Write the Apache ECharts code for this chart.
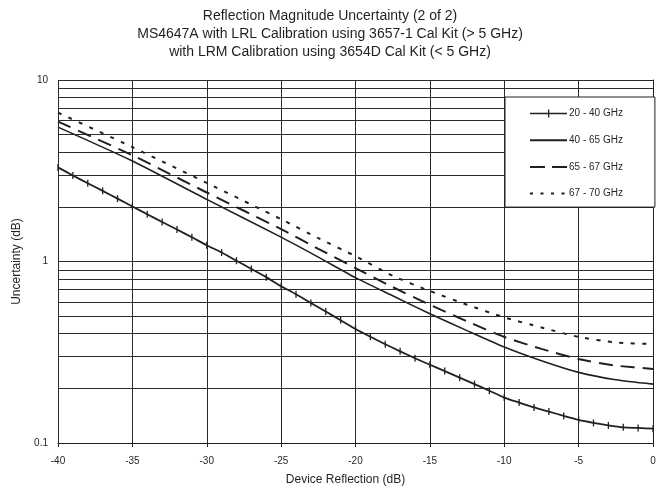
<!DOCTYPE html>
<html>
<head>
<meta charset="utf-8">
<script src="https://cdn.jsdelivr.net/npm/echarts@6/dist/echarts.min.js"></script>
<style>html,body{margin:0;padding:0;background:#fff}#c{width:660px;height:493px}</style>
</head>
<body>
<div id="c"></div>
<script>
const titleLines = [
  'Reflection Magnitude Uncertainty (2 of 2)',
  'MS4647A with LRL Calibration using 3657-1 Cal Kit (> 5 GHz)',
  'with LRM Calibration using 3654D Cal Kit (< 5 GHz)'
];
const seriesNames = ['20 - 40 GHz', '40 - 65 GHz', '65 - 67 GHz', '67 - 70 GHz'];

const xTicked = [-40,-39,-38,-37,-36,-35,-34,-33,-32,-31,-30,-29,-28,-27,-26,-25,-24,-23,-22,-21,
                 -20,-19,-18,-17,-16,-15,-14,-13,-12,-11,-10,-9,-8,-7,-6,-5,-4,-3,-2,-1,0];
const yTicked = [3.30,2.98,2.70,2.45,2.22,2.01,1.82,1.65,1.50,1.36,
                 1.23,1.12,1.01,0.91,0.82,0.73,0.66,0.59,0.53,0.475,
                 0.425,0.385,0.350,0.320,0.293,0.270,0.249,0.229,0.211,0.194,
                 0.178,0.167,0.157,0.149,0.141,0.134,0.129,0.125,0.122,0.121,0.120];

const xCurve = [-40,-35,-30,-25,-22.5,-20,-17.5,-15,-12.5,-10,-7.5,-5,-2.5,0];
const y40_65 = [5.50,3.58,2.20,1.362,1.057,0.815,0.647,0.515,0.416,0.338,0.284,0.245,0.223,0.211];
const y65_67 = [5.90,3.85,2.40,1.508,1.175,0.92,0.723,0.578,0.468,0.384,0.330,0.290,0.267,0.256];
const y67_70 = [6.61,4.27,2.71,1.71,1.345,1.07,0.834,0.688,0.578,0.492,0.433,0.384,0.358,0.351];

const minorGrid = [0.2,0.3,0.4,0.5,0.6,0.7,0.8,0.9,2,3,4,5,6,7,8,9];
const xTickLabels = ['-40','-35','-30','-25','-20','-15','-10','-5','0'];
const yTickLabels = ['0.1', '1', '10'];

const ink = '#231f20';
const gridInk = '#2a2a2a';
const zip = (xs, ys) => xs.map((x, i) => [x, ys[i]]);
const tickedIcon = 'path://M0,4.2L37,4.2L37,5.8L0,5.8Z M18,1L19.3,1L19.3,9L18,9Z';

const chart = echarts.init(document.getElementById('c'));
chart.setOption({
  animation: false,
  backgroundColor: '#fff',
  textStyle: { fontFamily: 'Liberation Sans, Arial, sans-serif' },
  title: {
    text: titleLines.join('\n'),
    left: 'center', top: 2,
    textStyle: { fontSize: 14, fontWeight: 'normal', color: ink, lineHeight: 18, fontFamily: 'Liberation Sans, Arial, sans-serif' }
  },
  grid: { left: 58, right: 7, top: 80, bottom: 50, containLabel: false },
  legend: {
    orient: 'vertical',
    left: 505, top: 97,
    padding: [11.5, 32, 8.5, 24],
    itemWidth: 37, itemHeight: 10, itemGap: 16.7,
    backgroundColor: '#fff',
    borderColor: ink, borderWidth: 1,
    textStyle: { fontSize: 10, color: ink, padding: [0, 0, 0, -3] },
    data: [
      { name: seriesNames[0], icon: tickedIcon },
      { name: seriesNames[1], itemStyle: { opacity: 0 } },
      { name: seriesNames[2], itemStyle: { opacity: 0 }, lineStyle: { type: [15, 7] } },
      { name: seriesNames[3], itemStyle: { opacity: 0 }, lineStyle: { type: [3, 7.5] } }
    ],
    z: 10
  },
  xAxis: {
    type: 'value', min: -40, max: 0, interval: 5,
    name: 'Device Reflection (dB)', nameLocation: 'middle', nameGap: 31,
    nameTextStyle: { fontSize: 12, color: ink, padding: [0, 20, 0, 0] },
    axisLine: { lineStyle: { color: ink, width: 1 } },
    axisTick: { show: true, length: 4, lineStyle: { color: ink } },
    axisLabel: { fontSize: 10, color: ink, margin: 13,
      formatter: v => xTickLabels[Math.round((v + 40) / 5)] },
    splitLine: { show: true, lineStyle: { color: gridInk, width: 1 } }
  },
  yAxis: {
    type: 'log', logBase: 10, min: 0.1, max: 10,
    name: 'Uncertainty (dB)', nameLocation: 'middle', nameGap: 35,
    nameTextStyle: { fontSize: 12, color: ink },
    axisLine: { show: true, lineStyle: { color: ink, width: 1 } },
    axisTick: { show: true, length: 4, lineStyle: { color: ink } },
    axisLabel: { fontSize: 10, color: ink, margin: 10,
      formatter: v => yTickLabels[Math.round(Math.log10(v)) + 1] },
    splitLine: { show: true, lineStyle: { color: gridInk, width: 1 } },
    minorTick: { show: false }, minorSplitLine: { show: false }
  },
  series: [
    {
      name: seriesNames[0], type: 'line', smooth: 0.2,
      data: zip(xTicked, yTicked),
      symbol: 'rect', symbolSize: [1.3, 7], showSymbol: true,
      itemStyle: { color: ink },
      lineStyle: { color: ink, width: 1.8 },
      markLine: {
        silent: true, symbol: 'none', label: { show: false },
        lineStyle: { color: gridInk, width: 1, type: 'solid' },
        data: minorGrid.map(v => ({ yAxis: v })),
        z: 1
      },
      z: 3
    },
    {
      name: seriesNames[1], type: 'line', smooth: 0.2,
      data: zip(xCurve, y40_65), symbol: 'none',
      itemStyle: { color: ink },
      lineStyle: { color: ink, width: 1.6 }, z: 3
    },
    {
      name: seriesNames[2], type: 'line', smooth: 0.2,
      data: zip(xCurve, y65_67), symbol: 'none',
      itemStyle: { color: ink },
      lineStyle: { color: ink, width: 2, type: [14, 8] }, z: 3
    },
    {
      name: seriesNames[3], type: 'line', smooth: 0.2,
      data: zip(xCurve, y67_70), symbol: 'none',
      itemStyle: { color: ink },
      lineStyle: { color: ink, width: 2, type: [4, 7.5] }, z: 3
    }
  ]
});
</script>
</body>
</html>
